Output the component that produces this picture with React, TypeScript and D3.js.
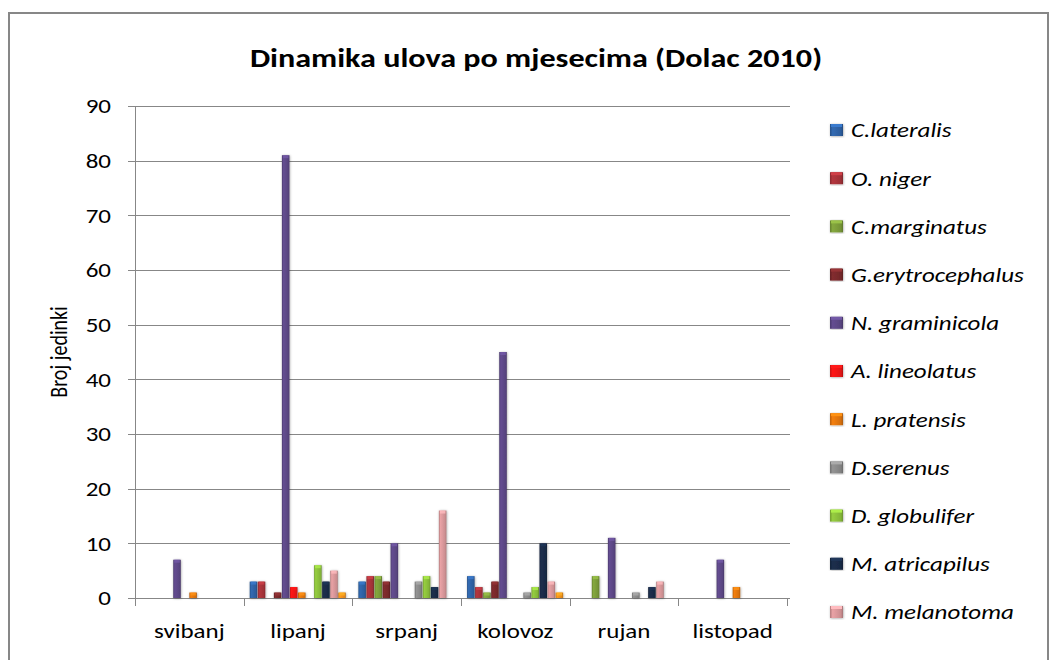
import { useEffect, useRef } from 'react'
import * as d3 from 'd3'

const months = ['svibanj', 'lipanj', 'srpanj', 'kolovoz', 'rujan', 'listopad']
const yTicks = [0, 10, 20, 30, 40, 50, 60, 70, 80, 90]

const seriesNames = [
  'C.lateralis',
  'O. niger',
  'C.marginatus',
  'G.erytrocephalus',
  'N. graminicola',
  'A. lineolatus',
  'L. pratensis',
  'D.serenus',
  'D. globulifer',
  'M. atricapilus',
  'M. melanotoma',
  '' // 12th series, its legend entry is cut off below the picture
]

const cLateralis = [0, 3, 3, 4, 0, 0]
const oNiger = [0, 3, 4, 2, 0, 0]
const cMarginatus = [0, 0, 4, 1, 4, 0]
const gErytrocephalus = [0, 1, 3, 3, 0, 0]
const nGraminicola = [7, 81, 10, 45, 11, 7]
const aLineolatus = [0, 2, 0, 0, 0, 0]
const lPratensis = [1, 1, 0, 0, 0, 2]
const dSerenus = [0, 0, 3, 1, 1, 0]
const dGlobulifer = [0, 6, 4, 2, 0, 0]
const mAtricapilus = [0, 3, 2, 10, 2, 0]
const mMelanotoma = [0, 5, 16, 3, 3, 0]
const series12 = [0, 1, 0, 1, 0, 0]

const seriesValues = [
  cLateralis, oNiger, cMarginatus, gErytrocephalus, nGraminicola, aLineolatus,
  lPratensis, dSerenus, dGlobulifer, mAtricapilus, mMelanotoma, series12
]

const seriesColors = [
  '#2f63a6', '#a8333a', '#7c9d3a', '#7a2a2c', '#5d4887', '#f01515',
  '#e3760f', '#8a8a8a', '#8cc03c', '#1a2c48', '#d9979a', '#f0901c'
]

const FONT = 'Calibri, Carlito, "Noto Sans", "Open Sans", sans-serif'
// the reference picture is stretched sideways a little
const SX = 1.19

const App = () => {
  const svgRef = useRef<SVGSVGElement>(null)

  useEffect(() => {
    document.body.style.margin = '0'
    if (!svgRef.current) return
    const svg = d3.select(svgRef.current)
    svg.selectAll('*').remove()

    const width = 1050
    const height = 660
    const plot = { left: 135, right: 787, top: 106, bottom: 598 }

    const label = (parent: any, x: number, y: number, txt: string | number, size: number, anchor = 'start', extra = '') => {
      const t = parent.append('g')
        .attr('transform', `translate(${x}, ${y}) scale(${SX}, 1)${extra}`)
        .append('text')
        .attr('text-anchor', anchor)
        .style('font-family', FONT)
        .style('font-size', `${size}px`)
        .style('fill', '#000')
        .text(txt)
      return t
    }

    // frame
    svg.append('rect')
      .attr('x', 0).attr('y', 0).attr('width', width).attr('height', height)
      .attr('fill', '#fff')
    svg.append('rect')
      .attr('x', 9).attr('y', 13).attr('width', width - 11).attr('height', height)
      .attr('fill', '#fff')
      .attr('stroke', '#878787')
      .attr('stroke-width', 2)

    const defs = svg.append('defs')
    seriesColors.forEach((c, i) => {
      const base = d3.color(c)!
      const g = defs.append('linearGradient')
        .attr('id', `grad-${i}`)
        .attr('x1', '0').attr('x2', '1').attr('y1', '0').attr('y2', '0')
      g.append('stop').attr('offset', '0%').attr('stop-color', base.darker(0.6).toString())
      g.append('stop').attr('offset', '20%').attr('stop-color', base.brighter(0.2).toString())
      g.append('stop').attr('offset', '55%').attr('stop-color', c)
      g.append('stop').attr('offset', '85%').attr('stop-color', base.darker(0.2).toString())
      g.append('stop').attr('offset', '100%').attr('stop-color', base.darker(0.8).toString())
    })
    const shadow = defs.append('filter').attr('id', 'shadow')
      .attr('x', '-30%').attr('y', '-10%').attr('width', '160%').attr('height', '120%')
    shadow.append('feDropShadow')
      .attr('dx', 0.5).attr('dy', 0.5).attr('stdDeviation', 0.8)
      .attr('flood-color', '#000').attr('flood-opacity', 0.35)

    const xScale = d3.scaleBand<string>()
      .domain(months)
      .range([plot.left, plot.right])
      .padding(0)

    const inner = d3.scaleBand<number>()
      .domain(d3.range(seriesValues.length))
      .range([0, xScale.bandwidth()])
      .paddingInner(0)
      .paddingOuter(0.75)

    const yScale = d3.scaleLinear()
      .domain([0, 90])
      .range([plot.bottom, plot.top])

    // grid lines
    svg.append('g')
      .selectAll('line')
      .data(yTicks)
      .join('line')
      .attr('x1', plot.left).attr('x2', plot.right + 3)
      .attr('y1', d => Math.round(yScale(d)) + 0.5)
      .attr('y2', d => Math.round(yScale(d)) + 0.5)
      .attr('stroke', '#878787')
      .attr('stroke-width', 1)

    // y axis
    svg.append('line')
      .attr('x1', plot.left + 0.5).attr('x2', plot.left + 0.5)
      .attr('y1', plot.top).attr('y2', plot.bottom)
      .attr('stroke', '#878787')
    svg.append('g')
      .selectAll('line')
      .data(yTicks)
      .join('line')
      .attr('x1', plot.left - 7).attr('x2', plot.left)
      .attr('y1', d => Math.round(yScale(d)) + 0.5)
      .attr('y2', d => Math.round(yScale(d)) + 0.5)
      .attr('stroke', '#878787')
    const yLabels = svg.append('g')
    yTicks.forEach(d => {
      label(yLabels, 111, yScale(d), d, 21, 'end').attr('dy', '0.35em')
    })

    // x axis
    const xEdges = [...months.map(m => xScale(m)!), plot.right]
    svg.append('g')
      .selectAll('line')
      .data(xEdges)
      .join('line')
      .attr('x1', d => Math.round(d) + 0.5).attr('x2', d => Math.round(d) + 0.5)
      .attr('y1', plot.bottom).attr('y2', plot.bottom + 8)
      .attr('stroke', '#878787')
    const xLabels = svg.append('g')
    months.forEach(m => {
      label(xLabels, xScale(m)! + xScale.bandwidth() / 2, 638, m, 21, 'middle')
    })

    // bars
    seriesValues.forEach((values, si) => {
      const g = svg.append('g').attr('filter', 'url(#shadow)')
      months.forEach((m, mi) => {
        const v = values[mi]
        if (!v) return
        const x = xScale(m)! + inner(si)!
        const w = inner.bandwidth() - 0.5
        const y = yScale(v)
        const h = plot.bottom - y
        g.append('rect')
          .attr('x', x).attr('y', y)
          .attr('width', w).attr('height', h)
          .attr('fill', `url(#grad-${si})`)
        // bevel cap
        g.append('rect')
          .attr('x', x + 1).attr('y', y)
          .attr('width', w - 2).attr('height', Math.min(3, h))
          .attr('fill', d3.color(seriesColors[si])!.brighter(0.6).toString())
          .attr('opacity', 0.8)
      })
    })

    // title
    label(svg, 536, 67, 'Dinamika ulova po mjesecima (Dolac 2010)', 27, 'middle')
      .style('font-weight', 'bold')

    // y axis label
    label(svg, 67, (plot.top + plot.bottom) / 2, 'Broj jedinki', 20, 'middle', ' rotate(-90)')

    // legend
    const legend = svg.append('g')
    seriesNames.forEach((name, i) => {
      if (!name) return
      const item = legend.append('g')
        .attr('transform', `translate(830, ${130 + i * 48.2})`)
      item.append('rect')
        .attr('x', 0).attr('y', -6)
        .attr('width', 13).attr('height', 12)
        .attr('fill', `url(#grad-${i})`)
        .attr('filter', 'url(#shadow)')
      item.append('rect')
        .attr('x', 1).attr('y', -6)
        .attr('width', 11).attr('height', 3)
        .attr('fill', d3.color(seriesColors[i])!.brighter(0.6).toString())
      label(item, 21, 0, name, 21)
        .attr('dy', '0.35em')
        .style('font-style', 'italic')
    })
  }, [])

  return (
    <svg ref={svgRef} width={1050} height={660} style={{ display: 'block' }} />
  )
}

export default App
